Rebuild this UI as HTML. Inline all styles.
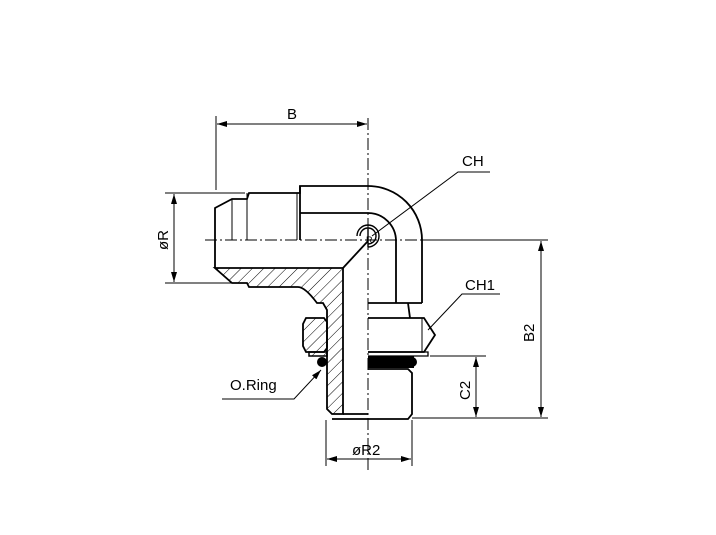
<!DOCTYPE html>
<html><head><style>html,body{margin:0;padding:0;background:#fff}</style></head><body>
<svg width="716" height="530" viewBox="0 0 716 530" xmlns="http://www.w3.org/2000/svg" font-family="Liberation Sans, sans-serif">
<defs>
<pattern id="h" patternUnits="userSpaceOnUse" width="8" height="8" patternTransform="rotate(45)"><line x1="0" y1="0" x2="0" y2="8" stroke="#000" stroke-width="1"/></pattern>
<marker id="a" markerWidth="10" markerHeight="6" refX="10" refY="3" orient="auto-start-reverse" markerUnits="userSpaceOnUse"><path d="M0,0 L10,3 L0,6 z" fill="#000"/></marker>
</defs>
<g stroke="#000" fill="none" stroke-width="1">
<line x1="205" y1="240" x2="548" y2="240" stroke-dasharray="12,3,2,3"/>
<line x1="368" y1="118" x2="368" y2="472" stroke-dasharray="12,3,2,3"/>
<line x1="216" y1="116" x2="216" y2="190"/>
<line x1="217" y1="124" x2="367" y2="124" marker-start="url(#a)" marker-end="url(#a)"/>
<line x1="165" y1="193" x2="245" y2="193"/>
<line x1="165" y1="283" x2="232" y2="283"/>
<line x1="174" y1="194" x2="174" y2="282" marker-start="url(#a)" marker-end="url(#a)"/>
<line x1="422" y1="240" x2="548" y2="240"/>
<line x1="412" y1="418" x2="548" y2="418"/>
<line x1="541" y1="241" x2="541" y2="417" marker-start="url(#a)" marker-end="url(#a)"/>
<line x1="430" y1="356" x2="486" y2="356"/>
<line x1="476" y1="357" x2="476" y2="417" marker-start="url(#a)" marker-end="url(#a)"/>
<line x1="326" y1="420" x2="326" y2="466"/>
<line x1="412" y1="420" x2="412" y2="466"/>
<line x1="327" y1="459" x2="411" y2="459" marker-start="url(#a)" marker-end="url(#a)"/>
<polyline points="490,172 458,172 372,236"/>
<polyline points="500,294 462,294 428,330"/>
<polyline points="222,399 294,399 321,370" marker-end="url(#a)"/>
</g>
<path d="M215,268 L343,268 L343,414 L332,414 L327,409 L327,310 L323,303 L317,303 Q305,287 298,287 L249,287 L247,283 L232,283 Z" fill="url(#h)" stroke="#000" stroke-width="1.8"/>
<path d="M306,318 L324,318 L327,322 L327,348 L324,352 L306,352 L303,346 L303,324 Z" fill="url(#h)" stroke="#000" stroke-width="1.8"/>
<rect x="309" y="352" width="18" height="4" fill="url(#h)" stroke="#000" stroke-width="1.5"/>
<circle cx="322" cy="362" r="5" fill="#000"/>
<g stroke="#000" fill="none" stroke-width="1.8">
<path d="M215,268 L215,208 L232,199 L247,199 L249,193 L300,193 L300,186 L368,186 A54,54 0 0 1 422,240 L422,303"/>
<line x1="232" y1="199" x2="232" y2="240" stroke-width="1"/>
<line x1="247" y1="193" x2="247" y2="240" stroke-width="1"/>
<line x1="297" y1="193" x2="297" y2="240" stroke-width="1"/>
<line x1="300" y1="186" x2="300" y2="240"/>
<path d="M300,213 L368,213 A28,28 0 0 1 396,241 L396,303"/>
<line x1="343" y1="268" x2="368" y2="241"/>
<path d="M368,303 L422,303 M408,303 L410,318"/>
<path d="M368,318 L424,318 L435,335 L424,352 L368,352"/>
<line x1="422" y1="318" x2="422" y2="352" stroke-width="1"/>
<path d="M368,352 L428,352 L428,356 L368,356" stroke-width="1.3"/>
<path d="M368,369 L408,369 L412,373 L412,414 L408,419 L332,419"/>
<line x1="343" y1="414" x2="368" y2="414"/>
</g>
<rect x="368" y="356" width="46" height="12" fill="#000"/>
<circle cx="412" cy="362" r="5" fill="#000"/>
<g stroke="#000" fill="none" stroke-width="1.4">
<path d="M357,236 A11,11 0 1 1 368,247"/>
<path d="M360,236 A8,8 0 1 1 368,244"/>
<line x1="368" y1="229" x2="368" y2="247"/>
</g>
<text x="366" y="243" font-size="9" fill="#000">R</text>
<g font-size="15" fill="#000">
<text x="287" y="119">B</text>
<text x="462" y="166">CH</text>
<text x="465" y="290">CH1</text>
<text x="230" y="390">O.Ring</text>
<text x="352" y="455">øR2</text>
<text transform="translate(168,250) rotate(-90)">øR</text>
<text transform="translate(534,342) rotate(-90)">B2</text>
<text transform="translate(470,400) rotate(-90)">C2</text>
</g>
</svg>
</body></html>
